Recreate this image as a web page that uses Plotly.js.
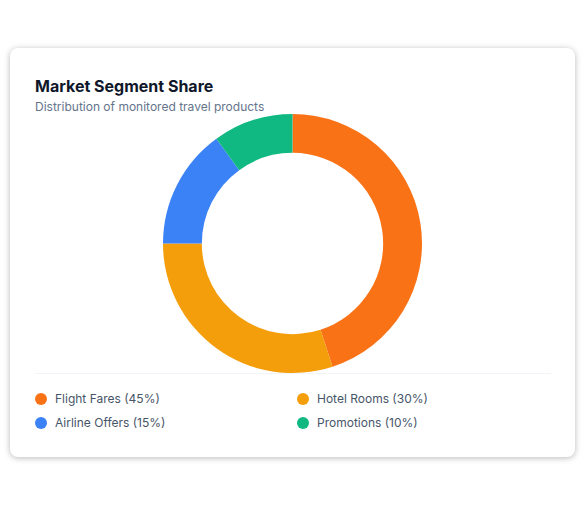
<!DOCTYPE html>
<html>
<head>
<meta charset="utf-8">
<script src="https://cdn.plot.ly/plotly-3.0.1.min.js"></script>
<style>
  html, body { margin: 0; padding: 0; background: #ffffff; width: 585px; height: 505px; overflow: hidden; font-family: Inter, "Noto Sans", sans-serif; }
  #card { position: absolute; left: 10px; top: 48px; width: 565px; height: 409px; background: #fff; border-radius: 8px; box-shadow: 0 1px 6px rgba(0,0,0,0.28); }
  #title { position: absolute; left: 25px; top: 28px; font-size: 16px; font-weight: 700; color: #0f172a; white-space: nowrap; }
  #subtitle { position: absolute; left: 25px; top: 51px; font-size: 12px; color: #64748b; white-space: nowrap; }
  #chart { position: absolute; left: 152.5px; top: 66px; width: 259px; height: 259px; }
  #sep { position: absolute; left: 25px; top: 325px; width: 516px; height: 1px; background: #f1f5f9; }
  .item { position: absolute; font-size: 12px; color: #475569; white-space: nowrap; height: 16px; line-height: 16px; }
  .dot { position: absolute; left: 0; top: 2px; width: 12px; height: 12px; border-radius: 50%; }
  .lbl { position: absolute; left: 20px; top: 0; }
</style>
</head>
<body>
<div id="card">
  <div id="title">Market Segment Share</div>
  <div id="subtitle">Distribution of monitored travel products</div>
  <div id="chart"></div>
  <div id="sep"></div>
  <div id="legend"></div>
</div>
<script>
const categories = ["Flight Fares", "Hotel Rooms", "Airline Offers", "Promotions"];
const shares = [45, 30, 15, 10];
const colors = ["#F97316", "#F59E0B", "#3B82F6", "#10B981"];

Plotly.newPlot("chart", [{
  type: "pie",
  labels: categories,
  values: shares,
  hole: 0.70,
  sort: false,
  direction: "clockwise",
  rotation: 0,
  textinfo: "none",
  hoverinfo: "label+percent",
  marker: { colors: colors, line: { width: 0 } }
}], {
  width: 259, height: 259,
  margin: { l: 0, r: 0, t: 0, b: 0 },
  showlegend: false,
  paper_bgcolor: "rgba(0,0,0,0)",
  plot_bgcolor: "rgba(0,0,0,0)"
}, { displayModeBar: false, staticPlot: true });

const legend = document.getElementById("legend");
categories.forEach((c, i) => {
  const col = i % 2, row = Math.floor(i / 2);
  const item = document.createElement("div");
  item.className = "item";
  item.style.left = (25 + col * 262) + "px";
  item.style.top = (343 + row * 24) + "px";
  item.innerHTML = '<span class="dot" style="background:' + colors[i] + '"></span><span class="lbl">' + c + ' (' + shares[i] + '%)</span>';
  legend.appendChild(item);
});
</script>
</body>
</html>
